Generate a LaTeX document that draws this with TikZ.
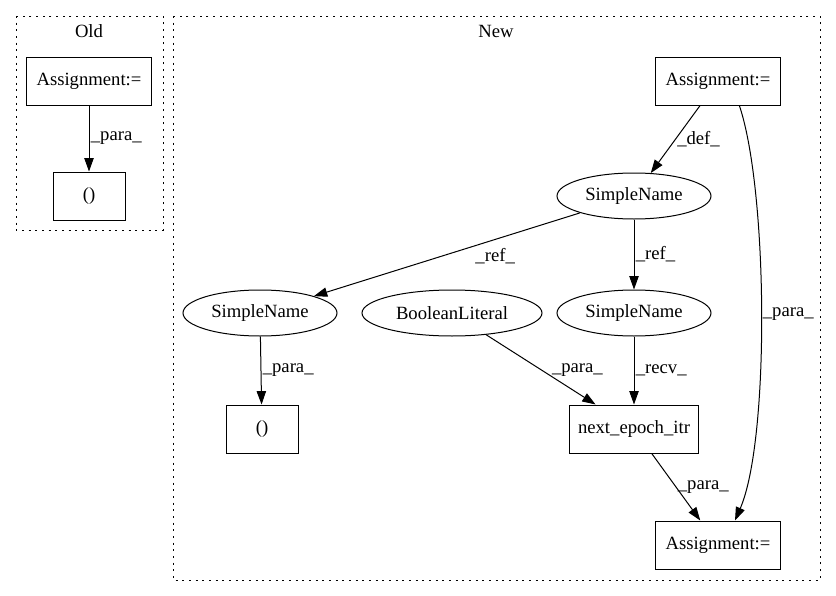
\documentclass[tikz,border=0pt]{standalone}
\usepackage{fontspec}
\setmainfont{Liberation Serif}
\usetikzlibrary{arrows.meta,shapes.geometric}
\begin{document}
\begin{tikzpicture}[x=0.75pt, y=-0.75pt, line width=0.75pt, %Unidade em pixels
	font=\fontsize{14pt}{16pt}\selectfont,
	>={Triangle[length=10pt,width=7pt]},
	caixa/.style={draw, rectangle, minimum height=36pt, inner sep=0pt},
	elipse/.style={draw, ellipse, minimum height=34.5pt, inner sep=0pt},
	rotulo/.style={inner sep=1pt},
	grupo/.style={draw, dash pattern=on 1.5pt off 3.5pt}]
	\useasboundingbox (0,0) rectangle (836,596);
	%Grupo Old
	\draw[grupo] (16,16) rectangle (163,230);
	\node (tOld) at (89,31) {Old};
	\node[caixa, minimum width=93.75pt] (oa) at (89,81) {Assignment:=};
	\node[caixa, minimum width=54pt] (op) at (89,196) {()};
	\draw[->] (oa) -- node[rotulo, right] {\_para\_} (op);
	
	%Grupo New
	\draw[grupo] (173,16) rectangle (820,580);
	\node (tNew) at (496,31) {New};
	\node[caixa, minimum width=93.75pt] (na) at (718,81) {Assignment:=};
	\node[elipse, minimum width=115.5pt] (s1) at (634,196) {SimpleName};
	\node[elipse, minimum width=115.5pt] (s2) at (260,313) {SimpleName};
	\node[elipse, minimum width=135pt] (bl) at (452,313) {BooleanLiteral};
	\node[elipse, minimum width=115.5pt] (s3) at (634,313) {SimpleName};
	\node[caixa, minimum width=54pt] (np) at (262,429) {()};
	\node[caixa, minimum width=96.75pt] (ne) at (634,429) {next\_epoch\_itr};
	\node[caixa, minimum width=93.75pt] (nb) at (718,545) {Assignment:=};
	
	%Arestas
	\draw[->] (na) -- node[rotulo, right] {\_def\_} (s1);
	\draw[->] ([xshift=16pt]na.south) .. controls (768,190) and (770,440) .. node[rotulo, right] {\_para\_} ([xshift=12.75pt]nb.north);
	\draw[->] (s1) -- node[rotulo, pos=0.4, anchor=north west] {\_ref\_} (s2);
	\draw[->] (s1) -- node[rotulo, right] {\_ref\_} (s3);
	\draw[->] (s2) -- node[rotulo, right] {\_para\_} (np);
	\draw[->] (bl) -- node[rotulo, right=7pt] {\_para\_} (ne);
	\draw[->] (s3) -- node[rotulo, right] {\_recv\_} (ne);
	\draw[->] (ne) -- node[rotulo, right] {\_para\_} (nb);
\end{tikzpicture}
\end{document}
